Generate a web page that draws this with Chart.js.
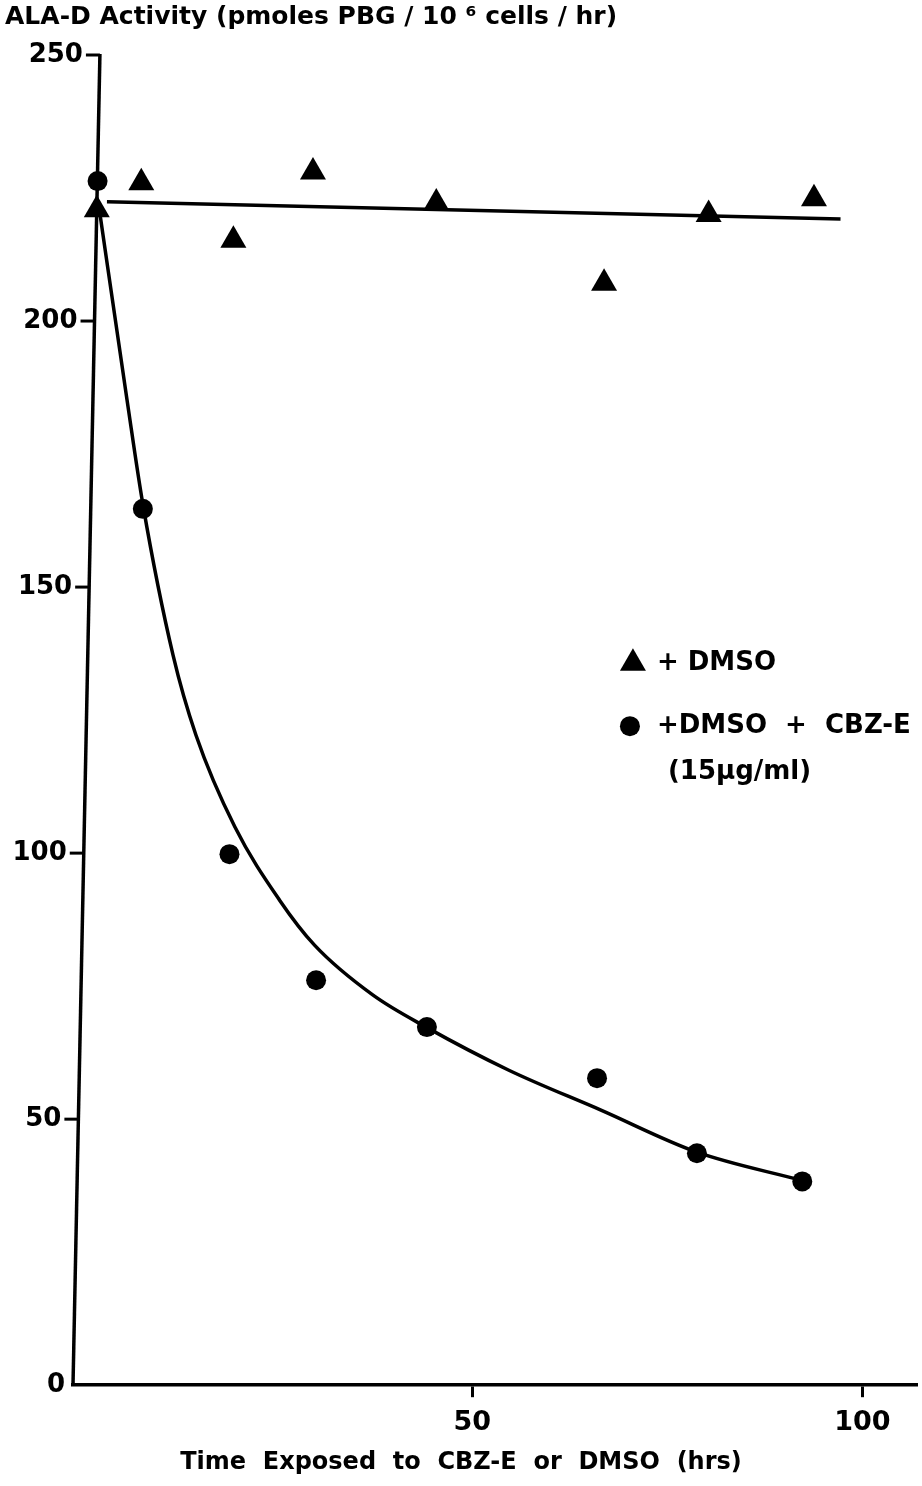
<!DOCTYPE html>
<html>
<head>
<meta charset="utf-8">
<title>ALA-D Activity</title>
<script src="https://cdn.jsdelivr.net/npm/chart.js@4.4.1/dist/chart.umd.min.js"></script>
<style>
    html, body { margin: 0; padding: 0; background: #fff; }
    canvas { display: block; }
</style>
</head>
<body>
<canvas id="alaChart" width="922" height="1486"></canvas>
<script>
// 데이터
const dmsoHours = [1.9, 7.6, 19.4, 29.6, 45.4, 66.9, 80.3, 93.8];
const dmsoActivity = [220.9, 226.0, 215.2, 228.0, 222.2, 207.1, 220.0, 223.0];

const cbzHours = [2.0, 7.8, 18.9, 30.0, 44.2, 66.0, 78.8, 92.3];
const cbzActivity = [226.3, 164.7, 99.8, 76.1, 67.3, 57.7, 43.6, 38.3];

// 손으로 그린 추세선
const dmsoFitHours = [3.2, 97.2];
const dmsoFitActivity = [222.4, 219.2];

const cbzFitHours = [2.05, 5.77, 7.82, 11.67, 14.6, 19.6, 25.3, 29.8, 37.3, 44.1, 54.7, 66.5, 78.8, 92.2];
const cbzFitActivity = [222.7, 185.2, 165.4, 137.2, 122.2, 104.9, 91.2, 82.7, 73.3, 67.3, 59.2, 51.7, 43.8, 38.5];

const xTickValues = [50, 100];
const yTickValues = [0, 50, 100, 150, 200, 250];

const legendLines = [['+ DMSO'], ['+DMSO  +  CBZ-E', '(15\u03bcg/ml)']];

document.addEventListener('DOMContentLoaded', () => {
    const toPoints = (xs, ys) => xs.map((v, i) => ({ x: v, y: ys[i] }));
    const fontFamily = '"DejaVu Sans", sans-serif';

    // 약간 기울어진 Y축 (원본 스캔처럼)
    const skewedAxis = {
        id: 'skewedAxis',
        beforeDatasetsDraw(chart) {
            const { ctx, scales: { x, y } } = chart;
            const bottomHour = -1.15, topHour = 2.3;
            const axisX = (v) => x.getPixelForValue(bottomHour + (topHour - bottomHour) * (v - y.min) / (y.max - y.min));
            ctx.save();
            ctx.strokeStyle = '#000';
            ctx.fillStyle = '#000';
            ctx.lineWidth = 3.5;
            ctx.beginPath();
            ctx.moveTo(axisX(y.min), y.getPixelForValue(y.min));
            ctx.lineTo(axisX(y.max), y.getPixelForValue(y.max) - 1);
            ctx.stroke();

            ctx.lineWidth = 3;
            ctx.font = 'bold 26px ' + fontFamily;
            ctx.textAlign = 'right';
            ctx.textBaseline = 'middle';
            yTickValues.forEach((v) => {
                const ax = axisX(v);
                const py = y.getPixelForValue(v);
                if (v > 0) {
                    ctx.beginPath();
                    ctx.moveTo(ax - 14, py);
                    ctx.lineTo(ax, py);
                    ctx.stroke();
                }
                ctx.fillText(String(v), v > 0 ? ax - 17 : ax - 8, py);
            });
            ctx.restore();
        }
    };

    // 차트 안쪽 범례 그리기
    const insideLegend = {
        id: 'insideLegend',
        afterDatasetsDraw(chart) {
            const { ctx, scales: { x, y } } = chart;
            const px = x.getPixelForValue(70.6);
            const py = y.getPixelForValue(135.7);
            ctx.save();
            ctx.fillStyle = '#000';
            ctx.font = 'bold 26px ' + fontFamily;
            ctx.textBaseline = 'middle';
            ctx.textAlign = 'left';

            // 삼각형
            const r = 15;
            ctx.beginPath();
            ctx.moveTo(px, py - r);
            ctx.lineTo(px + r * 0.866, py + r * 0.5);
            ctx.lineTo(px - r * 0.866, py + r * 0.5);
            ctx.closePath();
            ctx.fill();
            ctx.fillText(legendLines[0][0], px + 24, py);

            // 원
            ctx.beginPath();
            ctx.arc(px - 3, py + 63, 10, 0, Math.PI * 2);
            ctx.fill();
            ctx.fillText(legendLines[1][0], px + 24, py + 63);
            ctx.fillText(legendLines[1][1], px + 35, py + 109);
            ctx.restore();
        }
    };

    const ctx = document.getElementById('alaChart').getContext('2d');
    const alaChart = new Chart(ctx, {
        type: 'scatter',
        data: {
            datasets: [{
                label: '+ DMSO',
                data: toPoints(dmsoHours, dmsoActivity),
                pointStyle: 'triangle',
                pointRadius: 15,
                backgroundColor: '#000',
                borderColor: '#000',
                borderWidth: 0,
                clip: false
            }, {
                label: '+DMSO + CBZ-E',
                data: toPoints(cbzHours, cbzActivity),
                pointStyle: 'circle',
                pointRadius: 10,
                backgroundColor: '#000',
                borderColor: '#000',
                borderWidth: 0,
                clip: false
            }, {
                label: 'DMSO fit',
                data: toPoints(dmsoFitHours, dmsoFitActivity),
                showLine: true,
                pointRadius: 0,
                borderColor: '#000',
                borderWidth: 3.5,
                clip: false
            }, {
                label: 'CBZ-E fit',
                data: toPoints(cbzFitHours, cbzFitActivity),
                showLine: true,
                pointRadius: 0,
                borderColor: '#000',
                borderWidth: 3.5,
                cubicInterpolationMode: 'monotone', // 부드러운 곡선
                clip: false
            }]
        },
        options: {
            responsive: false,
            animation: false,
            devicePixelRatio: 1,
            layout: { autoPadding: false, padding: { left: 5, right: 5, top: 0, bottom: 0 } },
            plugins: {
                legend: { display: false },
                tooltip: { enabled: false },
                title: {
                    display: true,
                    text: 'ALA-D Activity (pmoles PBG / 10 \u2076 cells / hr)',
                    align: 'start',
                    color: '#000',
                    font: { family: fontFamily, size: 25, weight: 'bold' },
                    padding: { top: 2, bottom: 23 }
                },
                subtitle: {
                    display: true,
                    position: 'bottom',
                    text: 'Time  Exposed  to  CBZ-E  or  DMSO  (hrs)',
                    color: '#000',
                    font: { family: fontFamily, size: 24, weight: 'bold' },
                    padding: { top: 8, bottom: 9 }
                }
            },
            scales: {
                x: {
                    type: 'linear',
                    min: -1.15,
                    max: 107,
                    afterBuildTicks: (scale) => { scale.ticks = xTickValues.map(v => ({ value: v })); },
                    afterFit: (scale) => {
                        scale.height = 55;
                        scale.paddingLeft = 0;
                        scale.paddingRight = 0;
                    },
                    grid: { drawOnChartArea: false, drawTicks: true, tickLength: 12, tickWidth: 3, tickColor: '#000' },
                    border: { display: true, color: '#000', width: 3.5 },
                    ticks: { color: '#000', padding: 10, maxRotation: 0, font: { family: fontFamily, size: 27, weight: 'bold' } }
                },
                y: {
                    min: 0,
                    max: 250,
                    afterFit: (scale) => { scale.width = 68; },
                    grid: { display: false },
                    border: { display: false },
                    ticks: { display: false }
                }
            }
        },
        plugins: [skewedAxis, insideLegend]
    });
});
</script>
</body>
</html>
